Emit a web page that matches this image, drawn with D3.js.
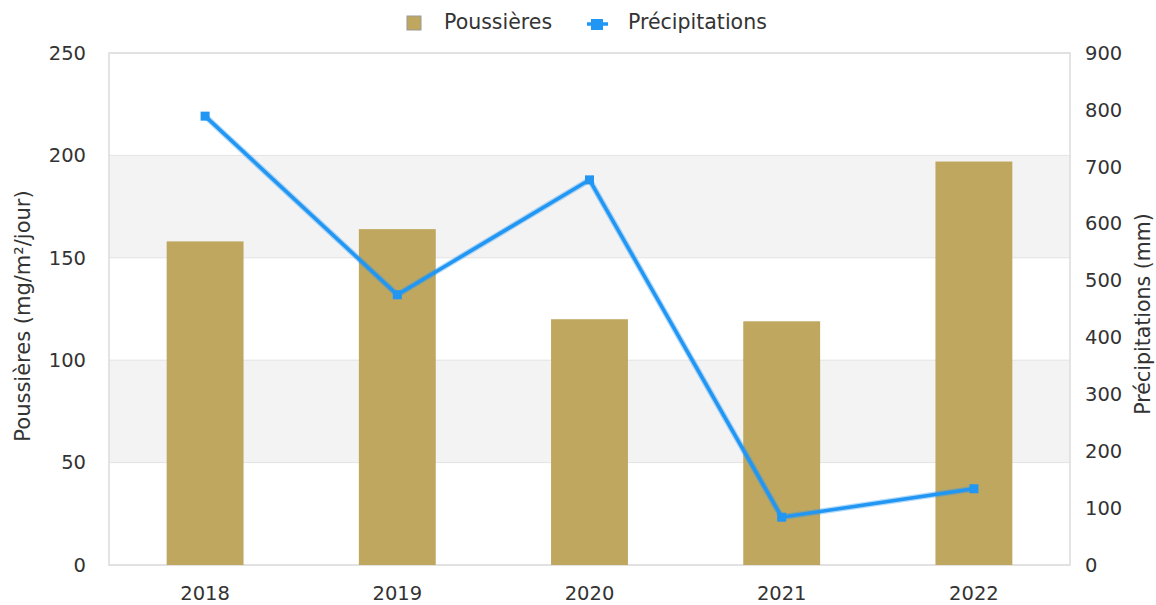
<!DOCTYPE html>
<html>
<head>
<meta charset="utf-8">
<script src="https://cdn.jsdelivr.net/npm/d3@7"></script>
<style>
  body { margin: 0; background: #fff; }
  text { font-family: "DejaVu Sans", sans-serif; fill: #333; }
</style>
</head>
<body>
<svg id="chart" width="1156" height="605"></svg>
<script>
var years = ["2018", "2019", "2020", "2021", "2022"];
var dust = [158, 164, 120, 119, 197];          // mg/m²/jour
var rain = [789, 475, 677, 84, 134];           // mm
var leftTicks = [0, 50, 100, 150, 200, 250];
var rightTicks = [0, 100, 200, 300, 400, 500, 600, 700, 800, 900];

var svg = d3.select("#chart");
var margin = {top: 53, right: 86, bottom: 40, left: 109};
var width = 1156 - margin.left - margin.right,
    height = 605 - margin.top - margin.bottom;

var g = svg.append("g").attr("transform", "translate(" + margin.left + "," + margin.top + ")");

var x = d3.scaleBand().domain(years).range([0, width]).paddingInner(0.6).paddingOuter(0.3);
var xc = function(d) { return x(d) + x.bandwidth() / 2; };
var yL = d3.scaleLinear().domain([0, 250]).range([height, 0]);
var yR = d3.scaleLinear().domain([0, 900]).range([height, 0]);

// alternating bands
for (var i = 0; i < leftTicks.length - 1; i++) {
  g.append("rect")
    .attr("x", 0).attr("width", width)
    .attr("y", yL(leftTicks[i + 1])).attr("height", yL(leftTicks[i]) - yL(leftTicks[i + 1]))
    .attr("fill", i % 2 == 1 ? "#f3f3f3" : "#fff");
}
g.selectAll(".grid").data(leftTicks).enter().append("line")
  .attr("x1", 0).attr("x2", width)
  .attr("y1", function(d) { return yL(d); }).attr("y2", function(d) { return yL(d); })
  .attr("stroke", "#e3e3e3").attr("stroke-width", 1);
g.append("rect").attr("x", 0).attr("y", 0).attr("width", width).attr("height", height)
  .attr("fill", "none").attr("stroke", "#dcdcdc").attr("stroke-width", 1.5);

// bars
g.selectAll(".bar").data(years).enter().append("rect")
  .attr("x", function(d) { return x(d); })
  .attr("width", x.bandwidth())
  .attr("y", function(d, i) { return yL(dust[i]); })
  .attr("height", function(d, i) { return height - yL(dust[i]); })
  .attr("fill", "#bfa75f");

// line
var line = d3.line().x(function(d, i) { return xc(years[i]); }).y(function(d) { return yR(d); });
g.append("path").datum(rain).attr("d", line)
  .attr("fill", "none").attr("stroke", "#2196f3").attr("stroke-opacity", 0.35).attr("stroke-width", 6);
g.append("path").datum(rain).attr("d", line)
  .attr("fill", "none").attr("stroke", "#2196f3").attr("stroke-width", 3.5);
g.selectAll(".pt").data(rain).enter().append("rect")
  .attr("x", function(d, i) { return xc(years[i]) - 4.5; })
  .attr("y", function(d) { return yR(d) - 4.5; })
  .attr("width", 9).attr("height", 9).attr("fill", "#2196f3");

// axes
var axL = g.append("g").call(d3.axisLeft(yL).tickValues(leftTicks).tickSize(0).tickPadding(23));
var axR = g.append("g").attr("transform", "translate(" + width + ",0)")
  .call(d3.axisRight(yR).tickValues(rightTicks).tickSize(0).tickPadding(15));
var axB = g.append("g").attr("transform", "translate(0," + height + ")")
  .call(d3.axisBottom(x).tickSize(0).tickPadding(21));
[axL, axR, axB].forEach(function(a) {
  a.select(".domain").remove();
  a.selectAll("text").attr("font-size", 19.5).attr("fill", "#333").style("font-family", "DejaVu Sans");
});

svg.append("text").attr("transform", "translate(30," + (margin.top + height / 2 + 7) + ") rotate(-90)")
  .attr("text-anchor", "middle").attr("font-size", 21).text("Poussières (mg/m²/jour)");
svg.append("text").attr("transform", "translate(1150," + (margin.top + height / 2 + 5) + ") rotate(-90)")
  .attr("text-anchor", "middle").attr("font-size", 20.5).text("Précipitations (mm)");

// legend
var lg = svg.append("g");
lg.append("rect").attr("x", 407).attr("y", 16).attr("width", 14).attr("height", 14)
  .attr("fill", "#bfa75f").attr("stroke", "#999").attr("stroke-width", 1);
lg.append("text").attr("x", 444).attr("y", 29).attr("font-size", 20.5).text("Poussières");
lg.append("line").attr("x1", 587).attr("x2", 608).attr("y1", 24).attr("y2", 24)
  .attr("stroke", "#2196f3").attr("stroke-width", 3.5);
lg.append("rect").attr("x", 591).attr("y", 19).attr("width", 12).attr("height", 11).attr("fill", "#2196f3");
lg.append("text").attr("x", 628).attr("y", 29).attr("font-size", 20.5).text("Précipitations");
</script>
</body>
</html>
